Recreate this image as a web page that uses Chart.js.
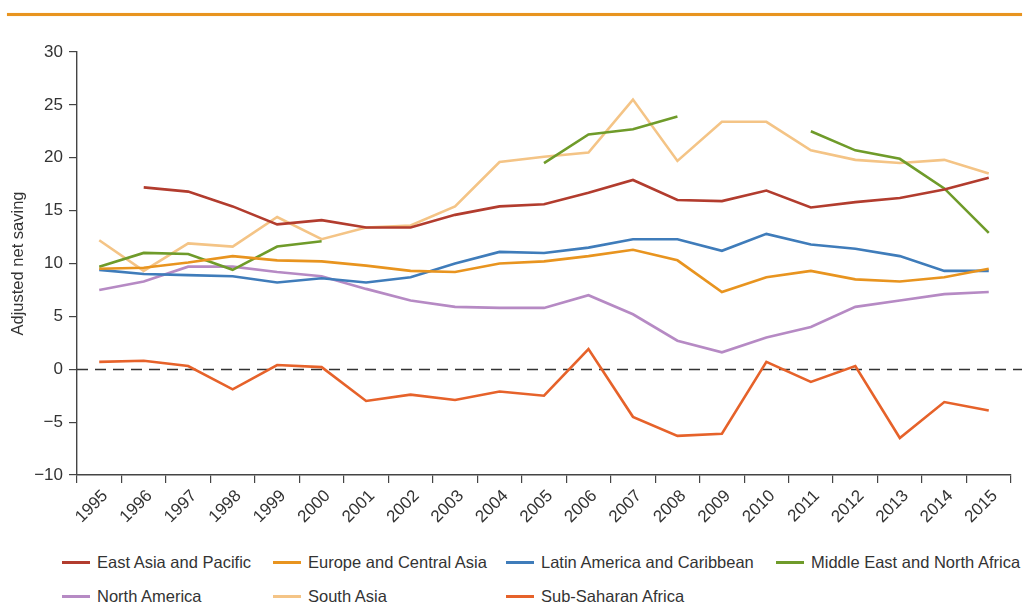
<!DOCTYPE html>
<html>
<head>
<meta charset="utf-8">
<script src="https://cdn.jsdelivr.net/npm/chart.js@4/dist/chart.umd.min.js"></script>
<style>
  body { margin: 0; background: #fff; font-family: "Liberation Sans", Arial, sans-serif; }
  #wrap { position: relative; width: 1028px; height: 604px; }
  #rule { position: absolute; left: 7px; top: 13px; width: 1015px; height: 3px; background: #e8941f; box-shadow: 0 0 1px #f3c27e; }
  #chartBox { position: absolute; left: 0; top: 0; width: 1028px; height: 540px; }
  #legend { position: absolute; left: 62px; top: 545px; display: grid;
    grid-template-columns: 211px 233px 270px auto; grid-auto-rows: 34px; align-items: center;
    font-size: 16.5px; color: #333; }
  .item { display: flex; align-items: center; white-space: nowrap; }
  .mark { width: 28px; height: 3px; margin-right: 7px; }
</style>
</head>
<body>
<div id="wrap">
  <div id="rule"></div>
  <div id="chartBox"><canvas id="myChart1" width="1028" height="540"></canvas></div>
  <div id="legend"></div>
</div>
<script>
var years = ['1995', '1996', '1997', '1998', '1999', '2000', '2001', '2002', '2003', '2004', '2005',
  '2006', '2007', '2008', '2009', '2010', '2011', '2012', '2013', '2014', '2015'];

var regionNames = ['East Asia and Pacific', 'Europe and Central Asia', 'Latin America and Caribbean',
  'Middle East and North Africa', 'North America', 'South Asia', 'Sub-Saharan Africa'];

var eastAsia = [null, 17.2, 16.8, 15.4, 13.7, 14.1, 13.4, 13.4, 14.6, 15.4, 15.6,
  16.7, 17.9, 16.0, 15.9, 16.9, 15.3, 15.8, 16.2, 17.0, 18.1];
var europeCA = [9.5, 9.6, 10.1, 10.7, 10.3, 10.2, 9.8, 9.3, 9.2, 10.0, 10.2,
  10.7, 11.3, 10.3, 7.3, 8.7, 9.3, 8.5, 8.3, 8.7, 9.5];
var latinAm = [9.4, 9.0, 8.9, 8.8, 8.2, 8.6, 8.2, 8.7, 10.0, 11.1, 11.0,
  11.5, 12.3, 12.3, 11.2, 12.8, 11.8, 11.4, 10.7, 9.3, 9.3];
var middleEast = [9.7, 11.0, 10.9, 9.4, 11.6, 12.1, null, null, null, null, 19.5,
  22.2, 22.7, 23.9, null, null, 22.5, 20.7, 19.9, 17.1, 12.9];
var northAm = [7.5, 8.3, 9.7, 9.7, 9.2, 8.8, 7.6, 6.5, 5.9, 5.8, 5.8,
  7.0, 5.2, 2.7, 1.6, 3.0, 4.0, 5.9, 6.5, 7.1, 7.3];
var southAsia = [12.2, 9.3, 11.9, 11.6, 14.4, 12.3, 13.4, 13.6, 15.4, 19.6, 20.1,
  20.5, 25.5, 19.7, 23.4, 23.4, 20.7, 19.8, 19.5, 19.8, 18.5];
var subSaharan = [0.7, 0.8, 0.3, -1.9, 0.4, 0.2, -3.0, -2.4, -2.9, -2.1, -2.5,
  1.9, -4.5, -6.3, -6.1, 0.7, -1.2, 0.3, -6.5, -3.1, -3.9];

var yTicks = [-10, -5, 0, 5, 10, 15, 20, 25, 30];

var colors = ['#b23c2e', '#e8941f', '#3f7cba', '#6f9b2a', '#b68ac4', '#f4c486', '#e6622a'];

function init() {
  printChart1();
}

function fmtTick(v) {
  return v < 0 ? '\u2212' + Math.abs(v) : String(v);
}

// dashed line at zero, through the y scale
var zeroLine = {
  id: 'zeroLine',
  beforeDatasetsDraw: function (chart) {
    var ctx = chart.ctx;
    var y = Math.round(chart.scales.y.getPixelForValue(0)) + 0.5;
    ctx.save();
    ctx.strokeStyle = '#333';
    ctx.lineWidth = 1.6;
    ctx.setLineDash([11, 7]);
    ctx.beginPath();
    ctx.moveTo(chart.chartArea.left, y);
    ctx.lineTo(chart.chartArea.right + 11, y);
    ctx.stroke();
    ctx.restore();
  }
};

function printChart1() {
  var series = [eastAsia, europeCA, latinAm, middleEast, northAm, southAsia, subSaharan];
  var datasets = series.map(function (d, i) {
    return {
      label: regionNames[i],
      data: d,
      borderColor: colors[i],
      backgroundColor: colors[i],
      borderWidth: 2.6,
      pointRadius: 0,
      tension: 0,
      spanGaps: false
    };
  });

  var ctx = document.getElementById('myChart1').getContext('2d');
  var chart = new Chart(ctx, {
    type: 'line',
    data: { labels: years, datasets: datasets },
    plugins: [zeroLine],
    options: {
      responsive: false,
      animation: false,
      layout: { padding: { left: 0, top: 52, right: 17, bottom: 0 } },
      plugins: { legend: { display: false }, tooltip: { enabled: false } },
      scales: {
        x: {
          offset: true,
          grid: { offset: true, drawOnChartArea: false, drawTicks: true, tickLength: 8, color: '#444', lineWidth: 1.2 },
          border: { display: true, color: '#444', width: 1.4 },
          ticks: {
            autoSkip: false, maxRotation: 45, minRotation: 45, padding: 3, labelOffset: 6,
            color: '#333', font: { family: '"Liberation Sans", Arial, sans-serif', size: 17 }
          },
          afterFit: function (scale) { scale.height = 65; }
        },
        y: {
          min: -10, max: 30,
          afterBuildTicks: function (scale) {
            scale.ticks = yTicks.map(function (v) { return { value: v }; });
          },
          grid: { drawOnChartArea: false, drawTicks: true, tickLength: 8, color: '#444', lineWidth: 1.2 },
          border: { display: true, color: '#444', width: 1.4 },
          ticks: {
            padding: 6, color: '#333',
            font: { family: '"Liberation Sans", Arial, sans-serif', size: 17 },
            callback: fmtTick
          },
          title: {
            display: true, text: 'Adjusted net saving', color: '#333',
            font: { family: '"Liberation Sans", Arial, sans-serif', size: 16.5 },
            padding: { top: 9, bottom: 0 }
          },
          afterFit: function (scale) { scale.width = 77; }
        }
      }
    }
  });
  printLegend(chart);
}

function printLegend(chart) {
  var box = document.getElementById('legend');
  chart.data.datasets.forEach(function (ds) {
    var item = document.createElement('div');
    item.className = 'item';
    var mark = document.createElement('span');
    mark.className = 'mark';
    mark.style.background = ds.borderColor;
    var txt = document.createElement('span');
    txt.textContent = ds.label;
    item.appendChild(mark);
    item.appendChild(txt);
    box.appendChild(item);
  });
}

init();
</script>
</body>
</html>
